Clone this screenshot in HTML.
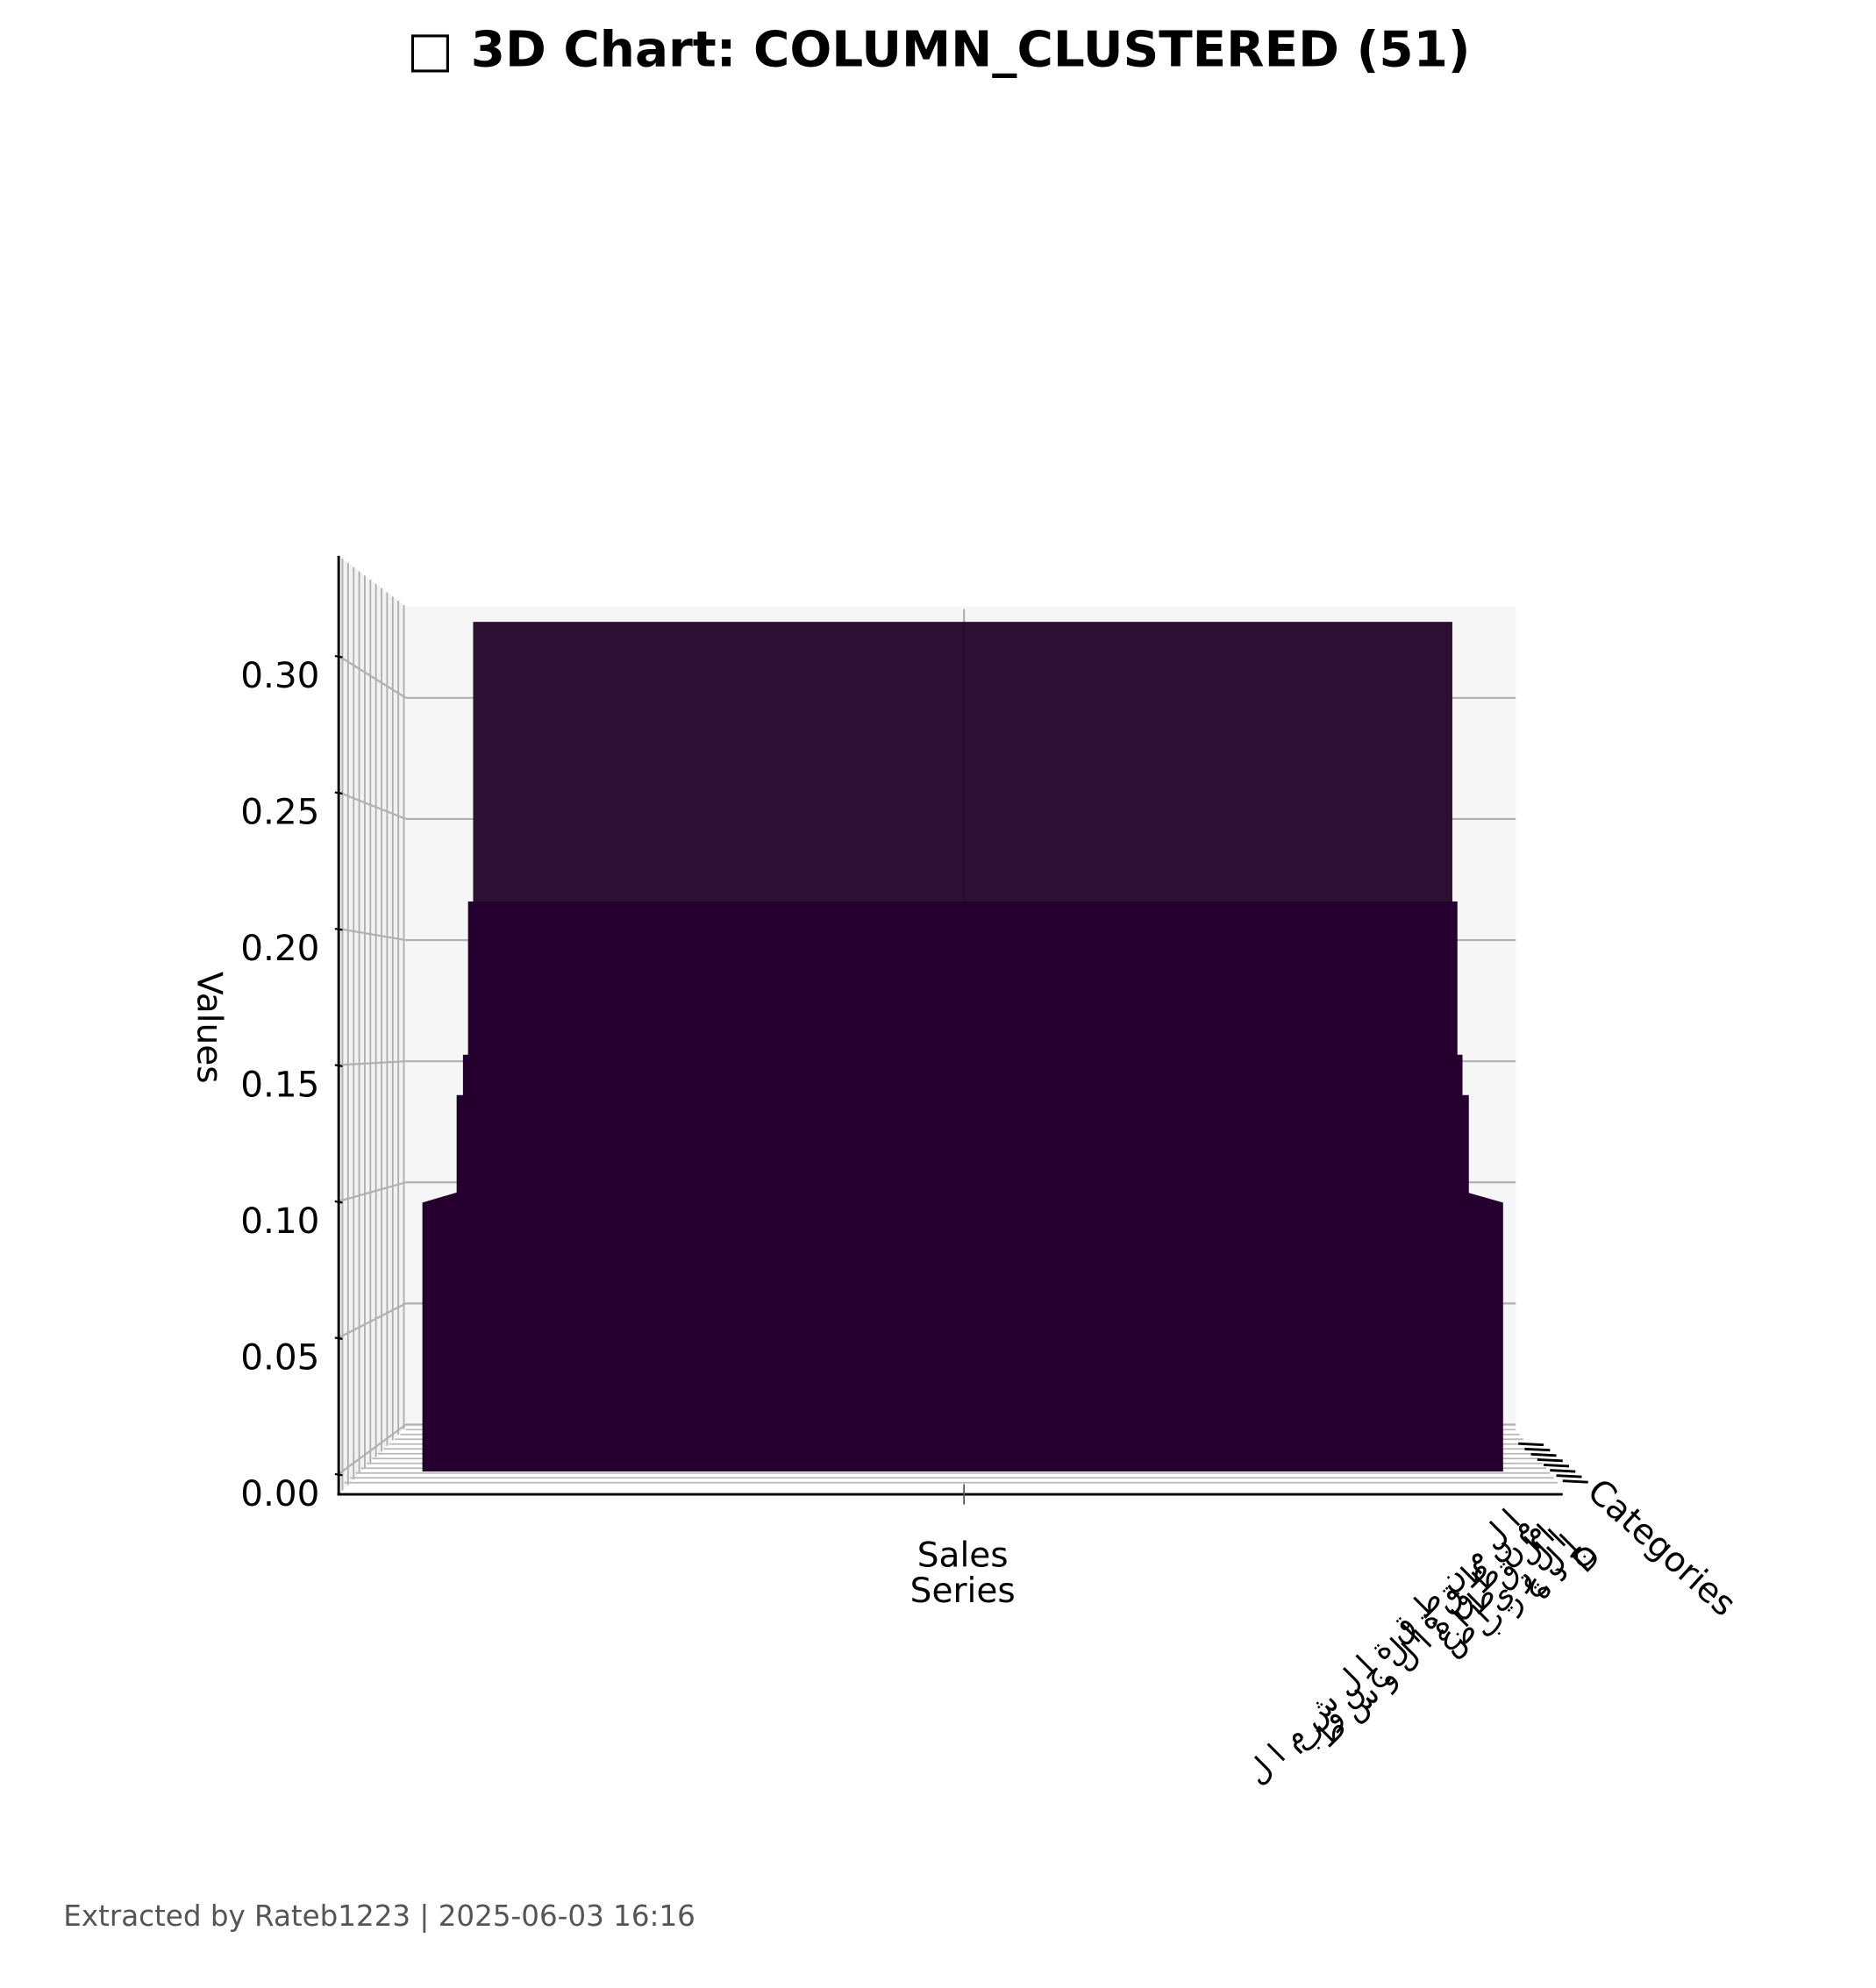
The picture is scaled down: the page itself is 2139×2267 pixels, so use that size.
<!DOCTYPE html>
<html><head><meta charset="utf-8"><style>
html,body{margin:0;padding:0;background:#fff;}
svg{display:block;}
text{font-family:"DejaVu Sans","Liberation Sans","Noto Sans CJK SC",sans-serif;}
</style></head><body>
<svg id="chart" width="2139" height="2267" viewBox="0 0 1479 1567" xmlns="http://www.w3.org/2000/svg">
<text x="740" y="52" text-anchor="middle" font-size="39" font-weight="bold">□ 3D Chart: COLUMN_CLUSTERED (51)</text>
<g id="panes"></g>
<g id="bars"></g>
<g id="axes"></g>
<text x="759" y="1235" text-anchor="middle" font-size="27">Sales</text>
<text x="759" y="1263" text-anchor="middle" font-size="27">Series</text>
<text transform="translate(156,810) rotate(90)" text-anchor="middle" font-size="27">Values</text>
<text transform="translate(1250,1178) rotate(42)" font-size="27">Categories</text>
<g id="catlabels"></g>
<text x="50" y="1518" font-size="22.5" fill="#555">Extracted by Rateb1223 | 2025-06-03 16:16</text>
</svg>
<script>
const categories=["منطقة الشمال","منطقة الجنوب","الشرق","الغرب","الوسط"];
const values=[0.10,0.14,0.155,0.212,0.316];
const yTicks=[0,0.05,0.10,0.15,0.20,0.25,0.30];
const yTickLabels=["0.00","0.05","0.10","0.15","0.20","0.25","0.30"];
const NS="http://www.w3.org/2000/svg";
function mk(tag,attrs,parent){const e=document.createElementNS(NS,tag);for(const k in attrs)e.setAttribute(k,attrs[k]);parent.appendChild(e);return e;}
const panes=document.getElementById('panes'),bars=document.getElementById('bars'),axes=document.getElementById('axes'),cl=document.getElementById('catlabels');
function yBack(v){return 1123-v*1910;}
function yFront(v){return 1177-v*2150;}
function yBar(v){return 1160-v*2120;}
let p=mk('rect',{x:320,y:478,width:875,height:647,fill:'#f6f6f6'},panes);

let lp=mk('polygon',{points:'267,438 320,478 320,1125 267,1178',fill:'#f2f2f2'},panes);

for(let i=0;i<12;i++){const x=270+i*4.4;const t=438+(x-267)*40/53;
 const l=mk('line',{x1:x,y1:t,x2:x,y2:1178-(x-267),stroke:'#b0b0b0','stroke-width':1.3},panes);
 }
for(let i=0;i<12;i++){const y=1127+i*3.8;
 const l=mk('line',{x1:320-i*4.4,y1:y,x2:1195+i*3,y2:y,stroke:'#b8b8b8','stroke-width':1.2},panes);
 }
yTicks.forEach((v,i)=>{
 const g=mk('line',{x1:320,y1:yBack(v),x2:1195,y2:yBack(v),stroke:'#b0b0b0','stroke-width':1.5},panes);
 
 const s=mk('line',{x1:267,y1:yFront(v)-15,x2:320,y2:yBack(v),stroke:'#b0b0b0','stroke-width':1.5},panes);
 
 const tk=mk('line',{x1:264,y1:yFront(v)-15,x2:270,y2:yFront(v)-14,stroke:'#000','stroke-width':1.5},axes);
 
 const t=mk('text',{x:252,y:yFront(v)+10,'text-anchor':'end','font-size':28},axes);
 t.textContent=yTickLabels[i];
 
});
let vg=mk('line',{x1:760,y1:480,x2:760,y2:1125,stroke:'#b0b0b0','stroke-width':1.5},panes);

const insets=[0,27,32,36,40];
for(let i=values.length-1;i>=0;i--){
 const v=values[i],ins=insets[i],top=yBar(v);
 const col=i===values.length-1?'#2c0f33':'#25002e';
 let r;
 if(i===0){r=mk('polygon',{points:`333,${top} 360,${top-8} 1157,${top-8} 1185,${top} 1185,1160 333,1160`,fill:col},bars);}
 else r=mk('rect',{x:333+ins,y:top,width:852-2*ins,height:1160-top-(i*5),fill:col},bars);
 
}
let vl=mk('line',{x1:760,y1:490,x2:760,y2:1160,stroke:'#1a0a22','stroke-width':1,opacity:0.5},bars);

let ya=mk('line',{x1:267,y1:438,x2:267,y2:1179,stroke:'#000','stroke-width':2},axes);

let xa=mk('line',{x1:266,y1:1178,x2:1232,y2:1178,stroke:'#000','stroke-width':2},axes);

let xt=mk('line',{x1:760,y1:1170,x2:760,y2:1186,stroke:'#555','stroke-width':1.2},axes);

for(let i=0;i<8;i++){
 const x=1197+i*5,y=1138+i*4.2;
 const l=mk('line',{x1:x,y1:y,x2:x+20,y2:y+1,stroke:'#000','stroke-width':2},axes);
 
}
const labs=["ا ل م ن ط ق ة ا ل ش م ا ل","م ن ط ق ة ا ل ج ن و ب","م ن ط ق ة ا ل و س ط","ا ل ق ط ا ع","ا ل ر ي ا ض","ا ل غ ر ب","ج د ة","D"];
labs.forEach((s,i)=>{
 const x=1200+i*9,y=1200+i*4;
 const t=mk('text',{transform:`translate(${x},${y}) rotate(-45)`,'text-anchor':'end','font-size':24},cl);
 t.textContent=s;
 
});
</script>
</body></html>
